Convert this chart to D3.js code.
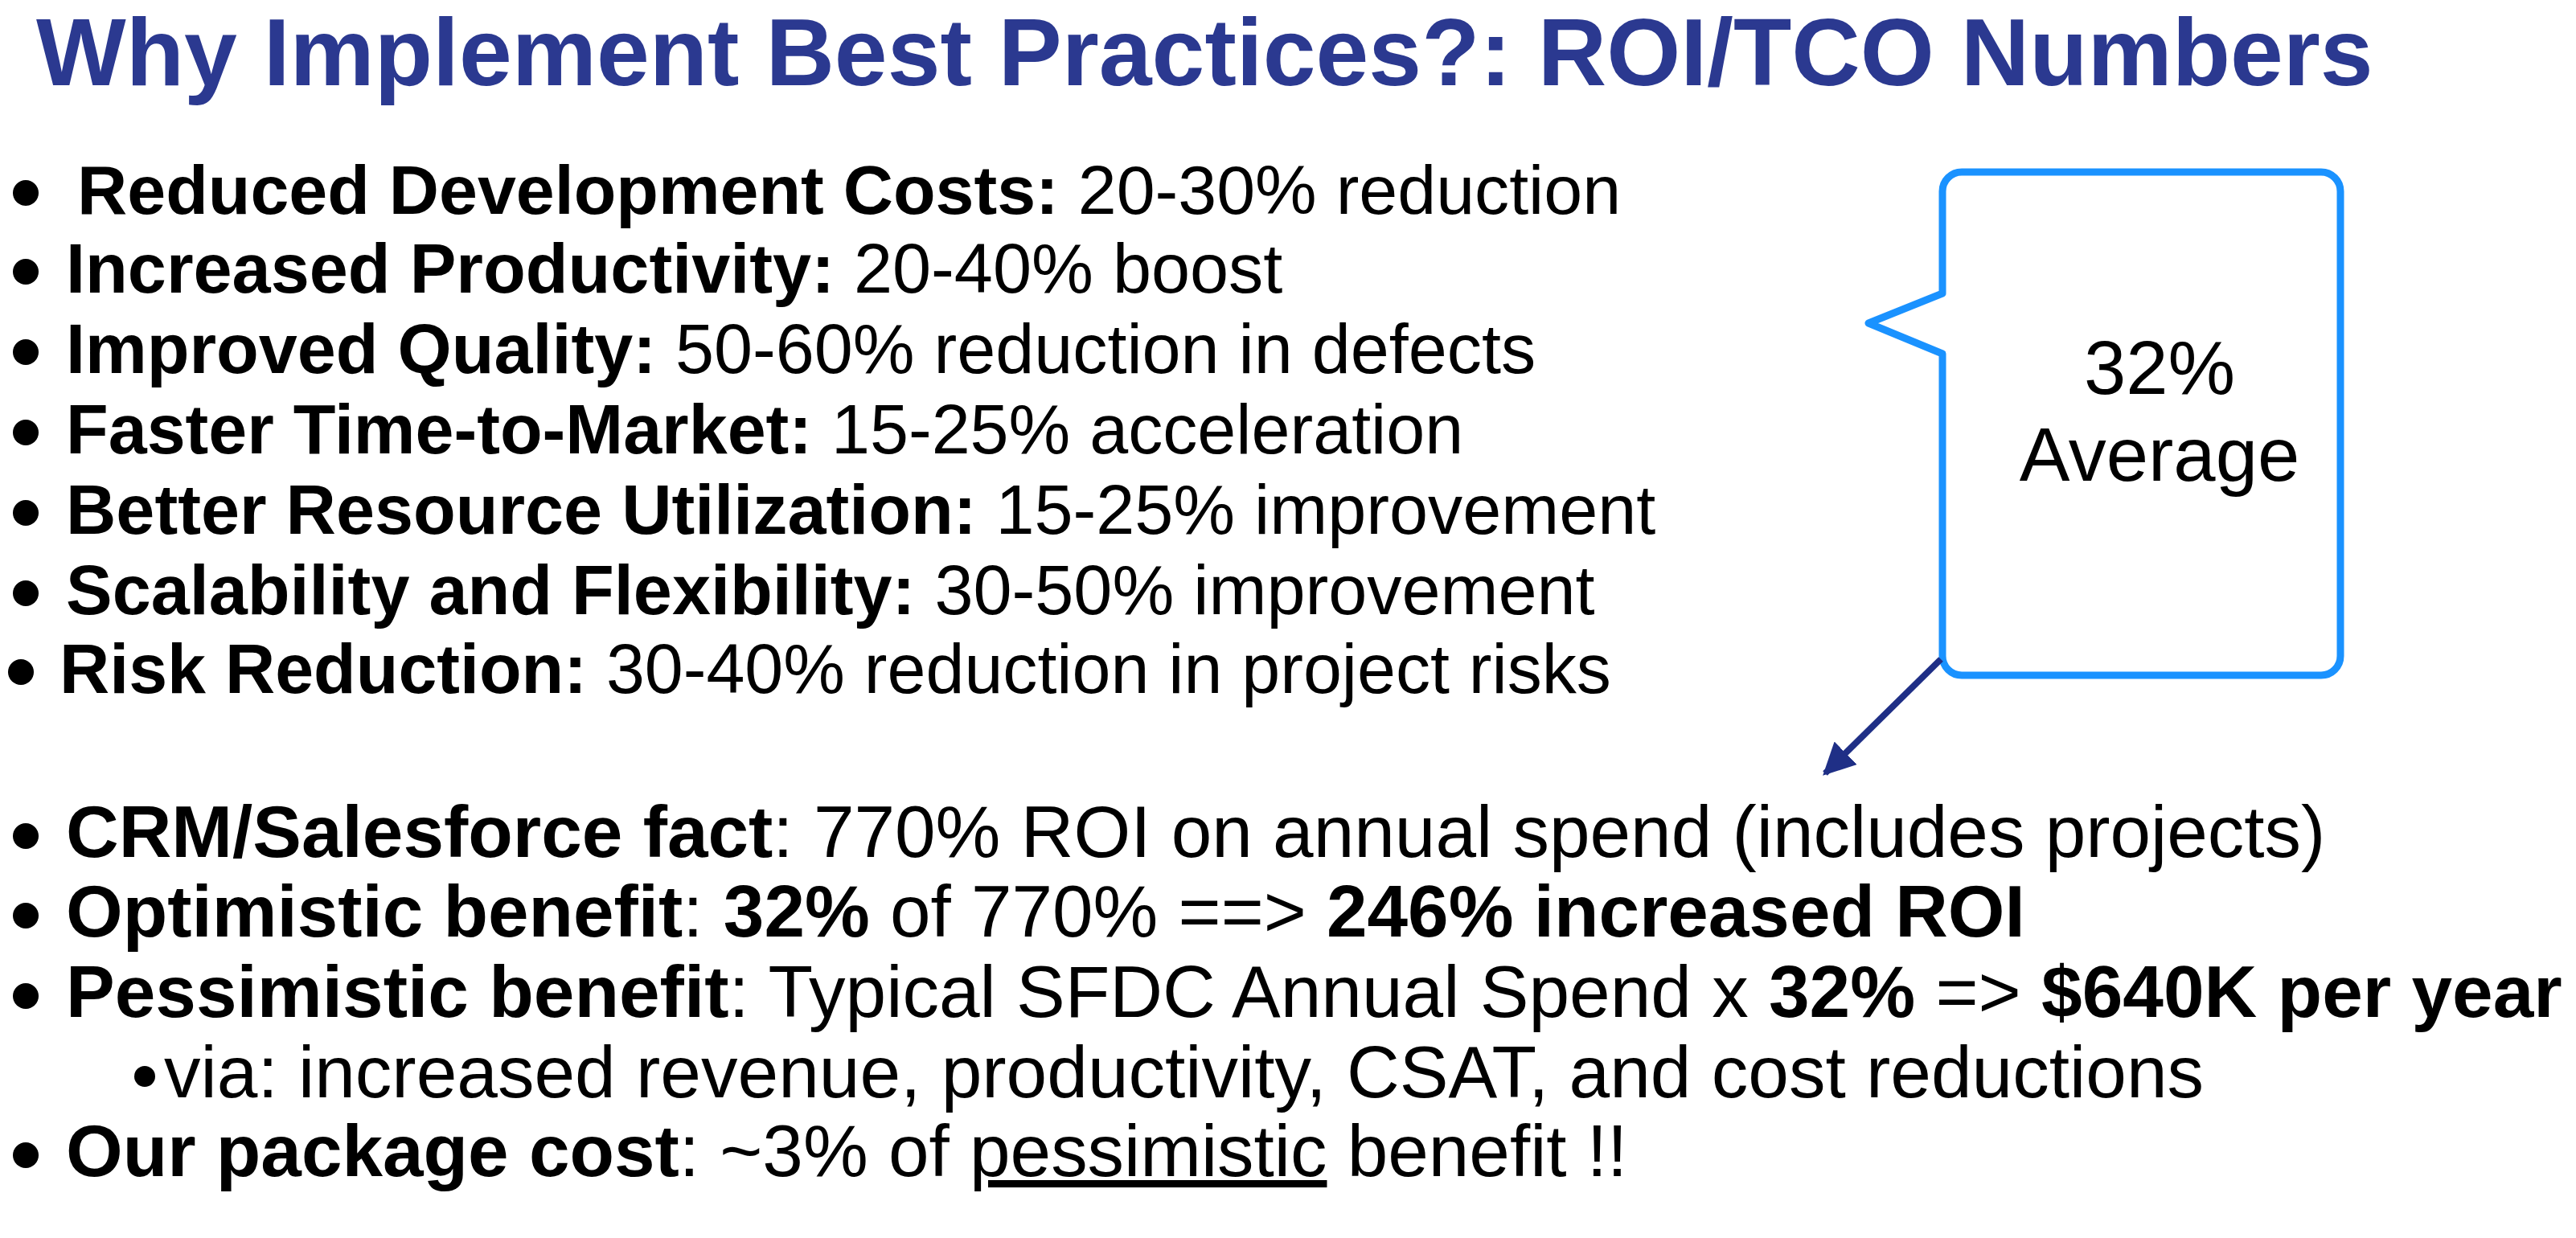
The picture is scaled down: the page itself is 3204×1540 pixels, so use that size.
<!DOCTYPE html>
<html><head><meta charset="utf-8">
<script src="https://cdn.jsdelivr.net/npm/d3@7"></script>
<style>body{margin:0;background:#fff}</style></head>
<body><svg id="c" width="3204" height="1540"></svg>
<script>
const title = "Why Implement Best Practices?: ROI/TCO Numbers";
const lines = [
  [["Reduced Development Costs:",1],[" 20-30% reduction",0]],
  [["Increased Productivity:",1],[" 20-40% boost",0]],
  [["Improved Quality:",1],[" 50-60% reduction in defects",0]],
  [["Faster Time-to-Market:",1],[" 15-25% acceleration",0]],
  [["Better Resource Utilization:",1],[" 15-25% improvement",0]],
  [["Scalability and Flexibility:",1],[" 30-50% improvement",0]],
  [["Risk Reduction:",1],[" 30-40% reduction in project risks",0]],
  [["CRM/Salesforce fact",1],[": 770% ROI on annual spend (includes projects)",0]],
  [["Optimistic benefit",1],[": ",0],["32%",1],[" of 770% ==> ",0],["246% increased ROI",1]],
  [["Pessimistic benefit",1],[": Typical SFDC Annual Spend x ",0],["32%",1],[" => ",0],["$640K per year",1]],
  [["via: increased revenue, productivity, CSAT, and cost reductions",0]],
  [["Our package cost",1],[": ~3% of ",0],["pessimistic",2],[" benefit !!",0]]
];
const callout = ["32%","Average"];
// layout (pixel geometry)
const baseY = [266,364,464,564,664,764,862,1066,1165,1265,1365,1463];
const startX = [96,82,82,82,82,82,74,82,82,82,204,82];
const endX = [987,781,935,891,1008,971,981,1416,1233,1560,1342,991].map(v=>v*2.043);
const bulletX = [32,32,32,32,32,32,26,32,32,32,180,32];
const svg = d3.select("#c");
const font = "'Liberation Sans', Arial, Helvetica, sans-serif";
const t = svg.append("text").attr("x",45).attr("y",106).attr("font-family",font)
  .attr("font-weight","bold").attr("fill","#2b3990").attr("font-size",100).text(title);
let w = t.node().getComputedTextLength();
t.attr("font-size",100*(2952-45)/w);
lines.forEach((segs,i)=>{
  const sub = i===10;
  svg.append("circle").attr("cx",bulletX[i]).attr("cy",baseY[i]-26).attr("r",sub?13:16).attr("fill","#000");
  const tx = svg.append("text").attr("x",startX[i]).attr("y",baseY[i]).attr("font-family",font)
    .attr("font-size",80).attr("fill","#000").attr("xml:space","preserve");
  segs.forEach(s=>{
    tx.append("tspan").text(s[0]).attr("font-weight",s[1]===1?"bold":"normal")
      .attr("text-decoration",s[1]===2?"underline":null);
  });
  const nw = tx.node().getComputedTextLength();
  tx.attr("font-size",80*(endX[i]-startX[i])/nw);
});
// callout box
const L=2416,R=2911,T=214,B=840,r=24;
const p = d3.path();
p.moveTo(L+r,T); p.lineTo(R-r,T); p.arcTo(R,T,R,T+r,r); p.lineTo(R,B-r); p.arcTo(R,B,R-r,B,r);
p.lineTo(L+r,B); p.arcTo(L,B,L,B-r,r); p.lineTo(L,440); p.lineTo(2324,402); p.lineTo(L,365);
p.lineTo(L,T+r); p.arcTo(L,T,L+r,T,r); p.closePath();
svg.append("path").attr("d",p.toString()).attr("fill","#fff").attr("stroke","#1a92ff").attr("stroke-width",9).attr("stroke-linejoin","round");
svg.append("text").attr("x",2686).attr("y",490).attr("text-anchor","middle").attr("font-family",font).attr("font-size",94).text(callout[0]);
svg.append("text").attr("x",2686).attr("y",598).attr("text-anchor","middle").attr("font-family",font).attr("font-size",94).text(callout[1]);
// arrow
const defs=svg.append("defs");
defs.append("marker").attr("id","ah").attr("viewBox","0 0 10 10").attr("refX",9).attr("refY",5)
 .attr("markerWidth",5).attr("markerHeight",5).attr("orient","auto").attr("markerUnits","strokeWidth")
 .append("path").attr("d","M0,0L10,5L0,10z").attr("fill","#1f2f86");
svg.append("line").attr("x1",2414).attr("y1",820).attr("x2",2270).attr("y2",962)
 .attr("stroke","#1f2f86").attr("stroke-width",8).attr("marker-end","url(#ah)");
</script></body></html>
